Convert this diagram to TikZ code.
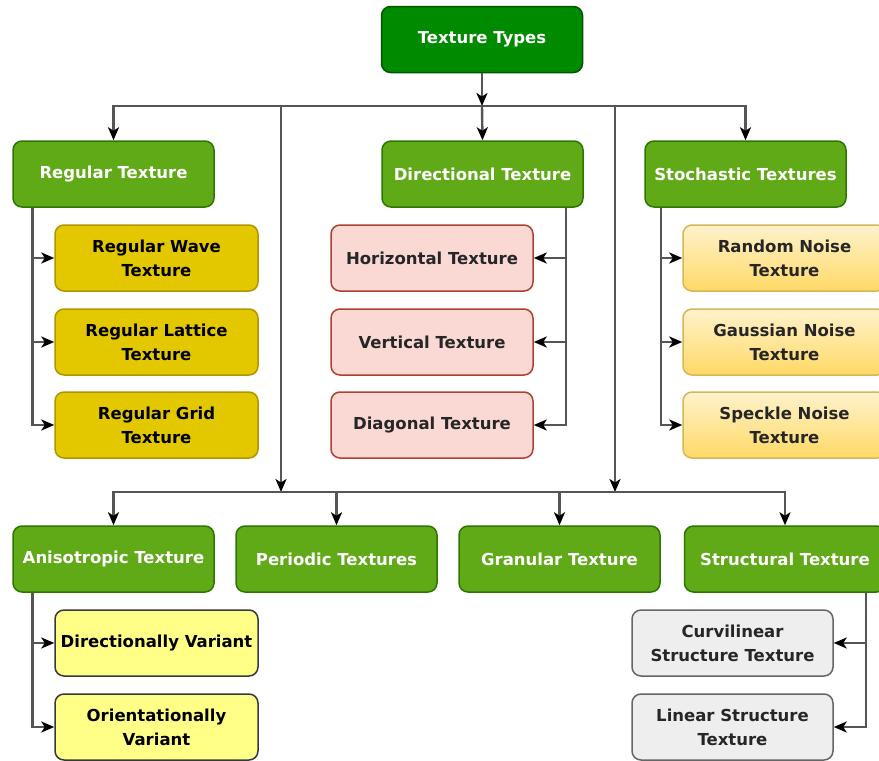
\documentclass[tikz,border=0pt]{standalone}
\usepackage{fontspec}
\setmainfont{DejaVu Sans}
\usetikzlibrary{arrows.meta,positioning}

\definecolor{rootfill}{HTML}{008A00}
\definecolor{rootline}{HTML}{005700}
\definecolor{catfill}{HTML}{60A917}
\definecolor{catline}{HTML}{2D7600}
\definecolor{goldfill}{HTML}{E3C800}
\definecolor{goldline}{HTML}{B09500}
\definecolor{pinkfill}{HTML}{FAD9D5}
\definecolor{pinkline}{HTML}{AE4132}
\definecolor{creamtop}{HTML}{FFF2CC}
\definecolor{creambot}{HTML}{FFD966}
\definecolor{creamline}{HTML}{D6B656}
\definecolor{lemonfill}{HTML}{FFFF88}
\definecolor{lemonline}{HTML}{36393D}
\definecolor{greyfill}{HTML}{EEEEEE}
\definecolor{greyline}{HTML}{666666}
\definecolor{wire}{HTML}{555555}

\tikzset{
  box/.style={rounded corners=9pt, line width=1.5pt, minimum width=201pt,
    minimum height=66pt, align=center, inner sep=2pt,
    font=\fontsize{16.5}{24}\selectfont\bfseries},
  rootbox/.style={box, fill=rootfill, draw=rootline, text=white},
  catbox/.style={box, fill=catfill, draw=catline, text=white},
  goldbox/.style={box, minimum width=203pt, fill=goldfill, draw=goldline, text=black},
  pinkbox/.style={box, minimum width=202pt, fill=pinkfill, draw=pinkline, text=black!85},
  creambox/.style={box, minimum width=203pt, top color=creamtop, bottom color=creambot, draw=creamline, text=black!85},
  lemonbox/.style={box, minimum width=203pt, fill=lemonfill, draw=lemonline, text=black},
  greybox/.style={box, fill=greyfill, draw=greyline, text=black!85},
  link/.style={draw=wire, line width=2.4pt, line join=miter},
  arr/.style={link, -{Stealth[length=13pt,width=11pt,inset=3.5pt,color=black]}}
}

\begin{document}
\begin{tikzpicture}[x=1pt,y=-1pt]
\useasboundingbox (0,0) rectangle (879,761);
\clip (0,0) rectangle (879,761);

% root
\node[rootbox] (tt) at (482,39.5) {Texture Types};

% first level
\node[catbox] (reg) at (113.5,174) {Regular Texture};
\node[catbox] (dir) at (482.5,174) {Directional Texture};
\node[catbox] (sto) at (745.5,174) {Stochastic Textures};

% regular children
\node[goldbox] (wave) at (156.5,258) {Regular Wave\\Texture};
\node[goldbox] (latt) at (156.5,342) {Regular Lattice\\Texture};
\node[goldbox] (grid) at (156.5,425) {Regular Grid\\Texture};

% directional children
\node[pinkbox] (hor) at (432,258) {Horizontal Texture};
\node[pinkbox] (ver) at (432,342) {Vertical Texture};
\node[pinkbox] (dia) at (432,425) {Diagonal Texture};

% stochastic children
\node[creambox] (rnd) at (784.5,258) {Random Noise\\Texture};
\node[creambox] (gau) at (784.5,342) {Gaussian Noise\\Texture};
\node[creambox] (spk) at (784.5,425) {Speckle Noise\\Texture};

% second level
\node[catbox] (ani) at (113.5,559) {Anisotropic Texture};
\node[catbox] (per) at (336.5,559) {Periodic Textures};
\node[catbox] (gra) at (559.5,559) {Granular Texture};
\node[catbox] (str) at (785,559) {Structural Texture};

% anisotropic children
\node[lemonbox] (dvar) at (156.5,643) {Directionally Variant};
\node[lemonbox] (ovar) at (156.5,727) {Orientationally\\Variant};

% structural children
\node[greybox] (curv) at (732.5,643) {Curvilinear\\Structure Texture};
\node[greybox] (lin) at (732.5,727) {Linear Structure\\Texture};

% bus junctions
\coordinate (hub) at (482,106);
\coordinate (hubL) at (281,492);
\coordinate (hubR) at (615,492);

% root to first bus
\draw[arr] (tt.south) -- (hub);
\draw[arr] (hub) -| (reg.north);
\draw[arr] (hub) -- (dir.north);
\draw[arr] (hub) -| (sto.north);
\draw[arr] (hub) -| (hubL);
\draw[arr] (hub) -| (hubR);

% second bus
\draw[link] (hubL) -- (hubR);
\draw[arr] (hubL) -| (ani.north);
\draw[arr] (hubL) -| (per.north);
\draw[arr] (hubR) -| (gra.north);
\draw[arr] (hubR) -| (str.north);

% trees
\draw[arr] ([xshift=-81pt]reg.south) |- (wave.west);
\draw[arr] ([xshift=-81pt]reg.south) |- (latt.west);
\draw[arr] ([xshift=-81pt]reg.south) |- (grid.west);

\draw[arr] ([xshift=83.5pt]dir.south) |- (hor.east);
\draw[arr] ([xshift=83.5pt]dir.south) |- (ver.east);
\draw[arr] ([xshift=83.5pt]dir.south) |- (dia.east);

\draw[arr] ([xshift=-84.5pt]sto.south) |- (rnd.west);
\draw[arr] ([xshift=-84.5pt]sto.south) |- (gau.west);
\draw[arr] ([xshift=-84.5pt]sto.south) |- (spk.west);

\draw[arr] ([xshift=-81pt]ani.south) |- (dvar.west);
\draw[arr] ([xshift=-81pt]ani.south) |- (ovar.west);

\draw[arr] ([xshift=81pt]str.south) |- (curv.east);
\draw[arr] ([xshift=81pt]str.south) |- (lin.east);
\end{tikzpicture}
\end{document}
